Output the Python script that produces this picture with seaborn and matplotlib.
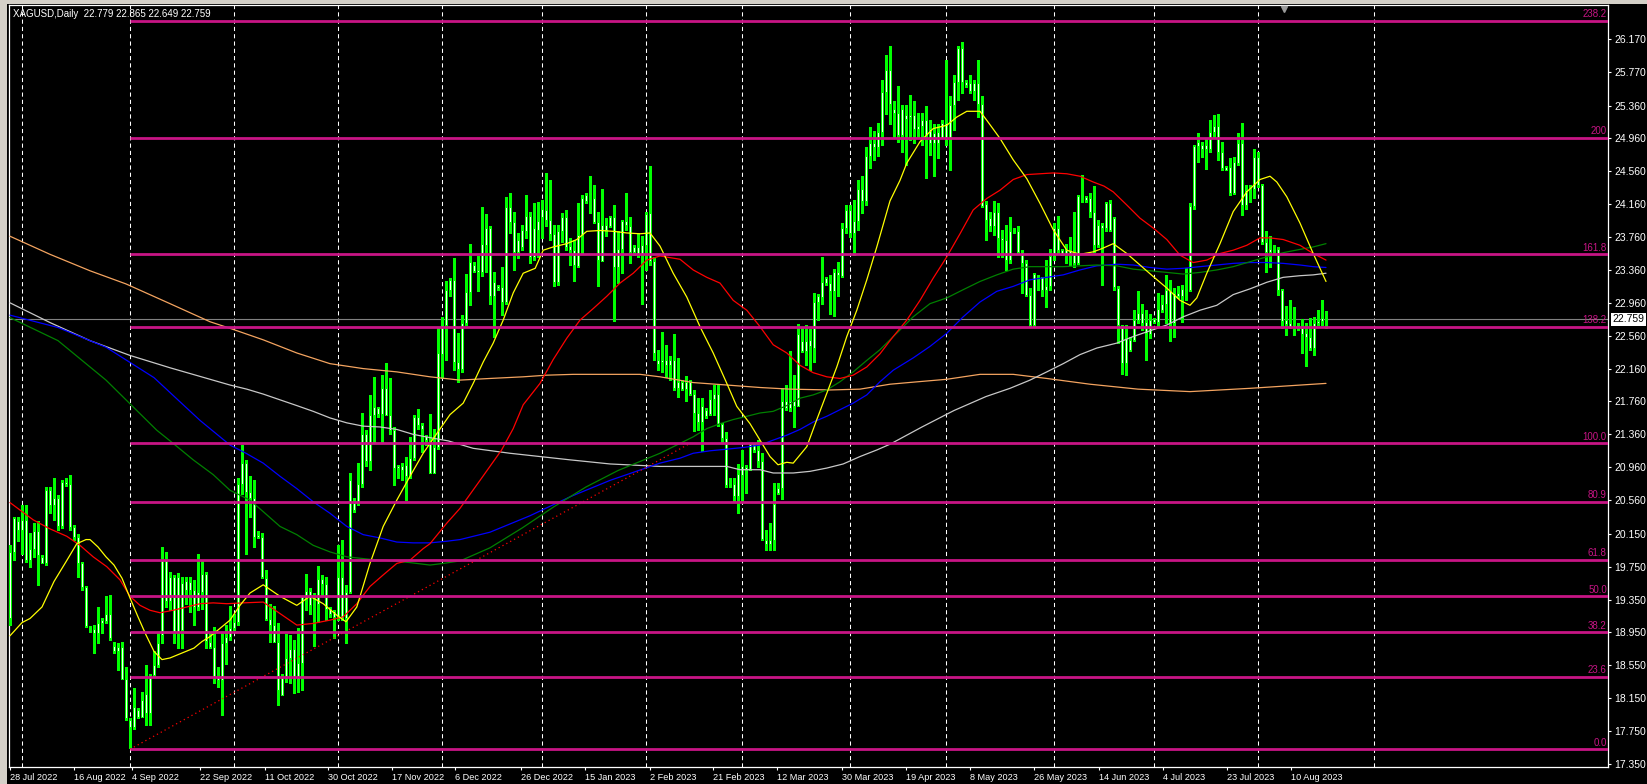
import matplotlib
matplotlib.use("Agg")
import matplotlib.pyplot as plt
import matplotlib.transforms as mtransforms
from matplotlib.patches import Rectangle
import numpy as np
import seaborn as sns

# ---------------- data ----------------
OPEN = [
    19.12, 19.93, 20.31, 20.20, 20.32, 19.83, 19.97, 20.18, 19.87, 19.80,
    20.68, 20.50, 20.58, 20.25, 20.78, 20.76, 20.23, 20.11, 19.80, 19.50,
    19.01, 18.99, 18.94, 19.07, 19.09, 19.18, 18.78, 18.72, 18.77, 18.39,
    17.89, 17.80, 18.01, 17.92, 17.97, 17.97, 18.43, 18.55, 18.92, 19.83,
    19.33, 19.63, 18.94, 19.55, 19.58, 19.47, 19.47, 19.26, 19.44, 19.66,
    18.83, 18.77, 18.41, 18.37, 18.82, 18.89, 19.00, 19.08, 20.76, 21.01,
    20.66, 20.58, 20.13, 20.11, 19.61, 19.11, 19.04, 18.84, 18.41, 18.39,
    18.64, 18.75, 18.39, 18.58, 19.37, 19.45, 19.30, 19.30, 19.60, 19.54,
    19.24, 19.21, 19.14, 19.62, 19.13, 19.44, 20.52, 20.52, 20.76, 21.37,
    21.03, 21.60, 21.68, 21.61, 21.92, 21.60, 21.41, 20.95, 20.98, 20.99,
    20.85, 21.07, 21.57, 21.47, 21.34, 21.25, 20.89, 21.21, 22.34, 22.69,
    23.12, 23.24, 22.24, 22.16, 22.71, 23.09, 23.42, 23.36, 23.33, 23.66,
    23.87, 23.04, 23.17, 23.15, 22.97, 24.12, 23.94, 23.58, 23.85, 23.83,
    24.02, 23.52, 23.85, 24.01, 24.09, 23.97, 23.80, 23.21, 23.83, 24.00,
    23.65, 23.60, 23.41, 23.79, 24.27, 24.28, 24.23, 23.94, 23.47, 23.91,
    23.89, 24.01, 23.39, 23.62, 23.96, 23.90, 23.58, 23.64, 23.56, 23.66,
    24.05, 23.47, 22.27, 22.24, 22.27, 22.20, 22.27, 21.92, 22.00, 21.91,
    22.00, 21.85, 21.62, 21.51, 21.66, 21.61, 21.79, 21.85, 21.49, 21.31,
    20.76, 20.76, 20.61, 20.86, 20.96, 20.94, 21.23, 21.17, 21.03, 20.08,
    20.03, 20.07, 20.71, 20.71, 21.77, 21.68, 21.77, 21.70, 22.49, 22.37,
    22.51, 22.41, 22.97, 23.03, 23.26, 23.20, 23.10, 23.34, 23.29, 23.87,
    24.09, 23.81, 23.96, 24.35, 24.20, 24.75, 24.90, 24.85, 25.04, 25.53,
    25.79, 25.32, 25.27, 25.00, 25.24, 25.22, 25.24, 25.07, 25.11, 25.18,
    25.07, 24.91, 25.04, 24.97, 25.15, 24.95, 25.37, 25.65, 26.06, 25.65,
    25.63, 25.54, 25.63, 25.38, 24.16, 23.99, 23.90, 24.07, 23.75, 23.73,
    23.48, 23.83, 23.83, 23.58, 23.45, 23.06, 22.69, 23.28, 23.27, 23.12,
    23.17, 23.53, 23.87, 23.60, 23.56, 23.60, 23.56, 23.44, 24.27, 24.25,
    24.23, 24.07, 23.66, 23.91, 23.87, 24.18, 23.99, 23.14, 22.68, 22.23,
    22.51, 22.51, 22.75, 22.84, 22.73, 22.58, 22.76, 22.73, 22.87, 22.95,
    23.12, 22.71, 23.08, 23.04, 23.13, 23.11, 24.14, 24.87, 24.88, 24.83,
    24.83, 25.04, 25.11, 24.79, 24.61, 24.61, 24.29, 24.66, 24.90, 24.15,
    24.33, 24.35, 24.73, 24.39, 23.70, 23.58, 23.61, 23.61, 23.12, 22.75,
    22.71, 22.67, 22.69, 22.65, 22.59, 22.54, 22.41, 22.71, 22.74, 22.779,
]
HIGH = [
    20.01, 20.35, 20.35, 20.50, 20.50, 20.16, 20.28, 20.30, 19.89, 20.72,
    20.72, 20.83, 20.62, 20.80, 20.83, 20.87, 20.26, 20.15, 19.81, 19.51,
    19.03, 19.04, 19.26, 19.12, 19.39, 19.41, 18.83, 18.82, 18.83, 18.53,
    17.91, 18.27, 18.03, 18.23, 18.56, 18.45, 18.72, 18.94, 19.99, 19.93,
    19.69, 19.65, 19.67, 19.63, 19.63, 19.63, 19.59, 19.90, 19.83, 19.69,
    18.94, 19.02, 18.53, 18.96, 19.04, 19.27, 19.18, 20.83, 21.23, 21.05,
    20.85, 20.81, 20.18, 20.16, 19.71, 19.30, 19.27, 19.06, 18.45, 18.93,
    18.92, 18.86, 19.00, 19.39, 19.66, 19.49, 19.43, 19.76, 19.65, 19.63,
    19.26, 19.22, 20.01, 20.07, 19.53, 20.89, 20.58, 21.01, 21.62, 21.41,
    21.84, 22.06, 21.69, 22.08, 22.23, 22.04, 21.45, 20.99, 21.01, 21.09,
    21.33, 21.60, 21.67, 21.50, 21.35, 21.61, 21.43, 22.65, 22.79, 23.22,
    23.26, 23.50, 22.59, 22.81, 23.31, 23.68, 23.46, 23.53, 24.13, 24.04,
    23.89, 23.34, 23.18, 23.40, 24.25, 24.30, 24.07, 23.81, 23.91, 24.27,
    24.07, 24.17, 24.19, 24.21, 24.54, 24.46, 23.91, 23.91, 24.05, 24.09,
    23.75, 23.73, 24.17, 24.27, 24.30, 24.50, 24.39, 24.07, 24.34, 23.99,
    24.02, 24.15, 23.83, 23.97, 24.29, 24.01, 23.66, 23.81, 23.77, 24.07,
    24.63, 23.52, 22.39, 22.61, 22.45, 22.31, 22.58, 22.29, 22.02, 22.07,
    22.02, 21.90, 21.80, 21.80, 21.68, 21.90, 21.96, 21.96, 21.50, 21.39,
    20.83, 20.83, 21.00, 21.17, 20.99, 21.25, 21.25, 21.29, 21.13, 20.20,
    20.28, 20.77, 20.77, 21.92, 21.96, 22.37, 22.08, 22.70, 22.67, 22.69,
    22.64, 23.08, 23.07, 23.52, 23.27, 23.30, 23.37, 23.46, 23.93, 24.15,
    24.15, 24.21, 24.45, 24.50, 24.85, 25.10, 25.05, 25.15, 25.67, 25.97,
    26.08, 25.41, 25.60, 25.37, 25.37, 25.49, 25.42, 25.27, 25.27, 25.35,
    25.18, 25.14, 25.14, 25.18, 25.91, 25.47, 25.73, 26.08, 26.13, 25.67,
    25.73, 25.67, 25.91, 25.47, 24.20, 24.07, 24.20, 24.17, 23.85, 23.91,
    24.00, 23.87, 23.89, 23.60, 23.48, 23.14, 23.32, 23.30, 23.28, 23.48,
    23.61, 23.93, 24.02, 23.62, 23.68, 23.76, 24.06, 24.27, 24.52, 24.26,
    24.29, 24.38, 23.97, 23.93, 24.19, 24.21, 24.00, 23.17, 22.69, 22.69,
    22.55, 22.87, 23.10, 22.95, 22.87, 22.83, 22.77, 23.08, 23.06, 23.30,
    23.24, 23.14, 23.17, 23.18, 23.38, 24.17, 24.88, 25.02, 24.92, 24.95,
    25.18, 25.25, 25.26, 24.92, 24.63, 24.72, 24.74, 25.03, 25.15, 24.39,
    24.39, 24.83, 24.80, 24.41, 23.83, 23.77, 23.66, 23.64, 23.13, 22.92,
    22.99, 22.91, 22.71, 22.76, 22.71, 22.77, 22.79, 22.87, 23.00, 22.865,
]
LOW = [
    19.04, 19.83, 20.06, 19.91, 19.81, 19.75, 19.87, 19.53, 19.79, 19.77,
    20.40, 20.32, 20.20, 20.22, 20.73, 20.20, 20.08, 19.63, 19.47, 19.02,
    18.96, 18.70, 18.82, 18.94, 19.06, 18.86, 18.70, 18.49, 18.39, 17.89,
    17.54, 17.78, 17.91, 17.92, 17.83, 17.83, 18.41, 18.53, 18.82, 19.26,
    19.22, 18.82, 18.76, 18.76, 19.30, 19.20, 19.04, 19.22, 19.24, 18.76,
    18.76, 18.33, 18.29, 17.95, 18.57, 18.86, 18.98, 19.04, 20.64, 19.91,
    20.36, 19.99, 20.10, 19.61, 19.10, 18.84, 18.84, 18.07, 18.19, 18.35,
    18.33, 18.21, 18.23, 18.25, 19.22, 19.18, 18.78, 19.08, 19.39, 19.10,
    19.14, 18.88, 19.10, 19.10, 18.82, 19.43, 20.42, 20.50, 20.72, 20.97,
    20.93, 21.25, 21.57, 21.27, 21.60, 21.37, 20.74, 20.83, 20.81, 20.56,
    20.83, 21.05, 21.43, 21.15, 21.23, 20.89, 20.89, 21.18, 22.04, 22.27,
    23.04, 22.14, 22.00, 22.12, 22.69, 22.93, 23.34, 23.10, 23.29, 23.33,
    22.95, 22.55, 23.12, 22.81, 22.95, 23.81, 23.36, 23.50, 23.60, 23.75,
    23.44, 23.48, 23.52, 23.75, 23.89, 23.73, 23.16, 23.18, 23.70, 23.60,
    23.42, 23.22, 23.40, 23.56, 24.17, 24.05, 23.93, 23.16, 23.47, 23.77,
    23.88, 22.74, 23.20, 23.32, 23.85, 23.44, 23.54, 23.52, 22.95, 23.36,
    23.42, 22.27, 22.14, 22.12, 22.06, 22.02, 21.90, 21.82, 21.90, 21.77,
    21.84, 21.40, 21.41, 21.16, 21.56, 21.60, 21.60, 21.46, 21.25, 20.72,
    20.72, 20.54, 20.40, 20.54, 20.65, 20.93, 21.15, 20.96, 20.08, 19.95,
    19.95, 19.95, 20.63, 20.57, 21.66, 21.64, 21.45, 21.70, 22.36, 22.20,
    22.14, 22.24, 22.75, 22.95, 23.18, 22.83, 22.80, 23.04, 23.28, 23.81,
    23.76, 23.54, 23.85, 24.05, 24.15, 24.60, 24.70, 24.75, 24.88, 25.26,
    25.14, 24.98, 24.92, 24.80, 24.64, 24.94, 24.90, 24.98, 24.88, 24.48,
    24.76, 24.50, 24.72, 24.96, 24.88, 24.57, 25.06, 25.43, 25.51, 25.59,
    25.51, 25.43, 25.22, 24.13, 23.72, 23.83, 23.79, 23.52, 23.52, 23.36,
    23.44, 23.81, 23.56, 23.08, 23.04, 22.67, 22.67, 23.12, 23.04, 22.91,
    23.12, 23.48, 23.56, 23.54, 23.44, 23.42, 23.39, 23.43, 24.19, 24.19,
    24.01, 23.58, 23.64, 23.18, 23.83, 23.83, 23.12, 22.47, 22.10, 22.08,
    22.37, 22.50, 22.71, 22.63, 22.27, 22.53, 22.71, 22.68, 22.85, 22.71,
    22.50, 22.55, 23.02, 22.73, 22.99, 23.10, 24.10, 24.67, 24.74, 24.59,
    24.80, 24.96, 24.70, 24.58, 24.57, 24.27, 24.28, 24.64, 24.03, 24.10,
    24.19, 24.23, 24.37, 23.68, 23.34, 23.40, 23.56, 23.06, 22.65, 22.57,
    22.65, 22.57, 22.63, 22.35, 22.19, 22.39, 22.33, 22.69, 22.69, 22.649,
]
CLOSE = [
    19.93, 20.34, 20.20, 20.32, 19.83, 19.97, 20.18, 19.89, 19.80, 20.68,
    20.50, 20.58, 20.25, 20.78, 20.76, 20.23, 20.11, 19.80, 19.50, 19.03,
    18.99, 18.94, 19.07, 19.10, 19.18, 18.88, 18.72, 18.77, 18.39, 17.91,
    17.80, 18.04, 17.92, 18.13, 18.20, 18.43, 18.55, 18.82, 19.83, 19.33,
    19.63, 18.94, 19.63, 18.98, 19.47, 19.56, 19.26, 19.44, 19.66, 18.85,
    18.77, 18.41, 18.37, 18.82, 18.89, 19.00, 19.08, 20.76, 21.01, 20.66,
    20.58, 20.11, 20.11, 19.62, 19.11, 19.04, 18.84, 18.25, 18.19, 18.64,
    18.75, 18.39, 18.58, 19.39, 19.45, 19.28, 19.28, 19.60, 19.54, 19.24,
    19.18, 19.14, 19.62, 19.13, 19.44, 20.81, 20.44, 20.76, 21.37, 21.03,
    21.60, 21.69, 21.61, 21.92, 21.60, 21.41, 20.95, 20.98, 20.93, 20.85,
    21.07, 21.57, 21.47, 21.43, 21.29, 20.89, 21.21, 22.35, 22.69, 23.12,
    23.24, 22.24, 22.16, 22.71, 23.09, 23.46, 23.35, 23.33, 23.68, 23.87,
    23.04, 23.21, 23.14, 22.97, 24.12, 23.94, 23.58, 23.73, 23.64, 24.02,
    23.52, 23.87, 23.96, 24.10, 23.97, 23.80, 23.21, 23.83, 24.00, 23.64,
    23.60, 23.42, 23.79, 24.24, 24.20, 24.29, 23.94, 23.48, 23.91, 23.85,
    24.00, 23.39, 23.62, 23.96, 23.91, 23.58, 23.64, 23.56, 23.66, 24.04,
    23.47, 22.35, 22.22, 22.27, 22.20, 22.27, 21.92, 22.00, 21.91, 22.00,
    21.85, 21.62, 21.51, 21.70, 21.58, 21.79, 21.85, 21.49, 21.31, 20.74,
    20.74, 20.61, 20.88, 20.97, 20.94, 21.24, 21.17, 21.03, 20.09, 20.03,
    20.07, 20.51, 20.65, 21.77, 21.68, 21.77, 21.70, 22.58, 22.37, 22.49,
    22.43, 22.97, 23.04, 23.21, 23.20, 23.10, 23.34, 23.30, 23.87, 24.09,
    23.81, 23.96, 24.35, 24.20, 24.75, 24.90, 24.85, 25.04, 25.53, 25.79,
    25.38, 25.27, 25.00, 25.32, 25.20, 25.24, 25.07, 25.11, 25.18, 24.99,
    24.91, 25.03, 24.90, 25.15, 24.94, 25.37, 25.65, 26.06, 25.65, 25.61,
    25.54, 25.63, 25.38, 24.14, 23.97, 23.90, 24.07, 23.75, 23.73, 23.48,
    23.83, 23.85, 23.58, 23.45, 23.06, 22.69, 23.31, 23.25, 23.12, 23.17,
    23.53, 23.87, 23.60, 23.56, 23.60, 23.56, 23.44, 24.26, 24.26, 24.21,
    24.07, 23.66, 23.91, 23.87, 24.18, 23.85, 23.15, 22.69, 22.23, 22.53,
    22.39, 22.75, 22.84, 22.72, 22.59, 22.75, 22.73, 22.88, 22.95, 23.12,
    22.71, 23.08, 23.04, 23.13, 23.11, 24.14, 24.87, 24.92, 24.83, 24.88,
    25.04, 25.11, 24.79, 24.60, 24.58, 24.29, 24.67, 24.90, 24.15, 24.33,
    24.35, 24.73, 24.39, 23.70, 23.58, 23.61, 23.60, 23.12, 22.74, 22.70,
    22.67, 22.69, 22.65, 22.58, 22.54, 22.41, 22.71, 22.74, 22.78, 22.759,
]

# moving averages: (bar index, price) points
YELLOW_X = [0, 3, 5, 8, 11, 14, 16.7, 19, 20, 22, 24, 26, 28, 30, 32, 34, 36, 38, 40, 43, 46, 48, 50, 53,
            55, 57.5, 60, 63.3, 67.5, 71.7, 75, 78.3, 81.7, 84, 86.7, 90, 93.3, 96.7, 100, 103.3, 106.7,
            110, 113.3, 115.8, 118.3, 120.8, 123.3, 125.8, 128.3, 131.3, 133.3, 135.8, 139.2, 141.7,
            144.2, 147.5, 150.8, 154.2, 157.5, 160, 162.5, 165.8, 169.2, 172.5, 175.8, 179.2, 181.7,
            185, 187.5, 190, 192, 194.2, 195.8, 199.2, 201.7, 204.2, 206.7, 209.2, 211.7, 214.2, 216.7,
            220, 222.5, 224.2, 227.5, 230.8, 234.2, 236.7, 239.2, 242.5, 244.2, 247.5, 250.8, 254.2,
            257.5, 260.8, 264.2, 267.5, 270.8, 273, 275.8, 279.2, 282.5, 285.8, 289.2, 292.5, 295,
            296.7, 299.2, 302.5, 305.8, 309.2, 312.5, 315, 316.7, 319.2, 322.5, 325.8, 329]
YELLOW_Y = [18.91, 19.07, 19.12, 19.26, 19.57, 19.81, 20.03, 20.08, 20.08, 19.99, 19.87, 19.77, 19.61,
            19.37, 19.14, 18.92, 18.72, 18.62, 18.64, 18.70, 18.76, 18.84, 18.90, 19.02,
            19.10, 19.28, 19.43, 19.53, 19.39, 19.28, 19.39, 19.30, 19.16, 19.08, 19.26, 19.79, 20.24,
            20.56, 20.85, 21.13, 21.37, 21.60, 21.74, 21.98, 22.24, 22.47, 22.75, 23.08, 23.32, 23.38,
            23.60, 23.64, 23.68, 23.73, 23.83, 23.84, 23.83, 23.81, 23.80, 23.81, 23.65, 23.32, 23.03,
            22.67, 22.35, 21.98, 21.70, 21.49, 21.29, 21.09, 20.99, 21.02, 21.01, 21.21, 21.54, 21.86,
            22.18, 22.55, 22.87, 23.24, 23.64, 24.20, 24.45, 24.66, 24.92, 25.08, 25.12, 25.22, 25.29,
            25.29, 25.18, 24.96, 24.70, 24.47, 24.17, 23.85, 23.60, 23.55, 23.58, 23.62, 23.68, 23.56,
            23.42, 23.28, 23.14, 22.99, 22.93, 23.02, 23.32, 23.68, 24.07, 24.31, 24.46, 24.50, 24.43,
            24.25, 23.93, 23.56, 23.22]

RED_X = [0, 5.8, 10, 14.2, 17.5, 20.8, 24.2, 27.5, 30, 32.5, 35, 37.5, 40.8, 44.2, 47.5, 50.8, 54.2,
         58.3, 63.3, 67.5, 71.7, 75.8, 80, 83.3, 86.7, 90, 93.3, 96.7, 100, 103.3, 105, 109.2, 112.5,
         117.5, 122.9, 125.8, 128.3, 132.5, 135.8, 139.2, 142.5, 145.8, 149.2, 152.5, 155.8, 159.2,
         162.5, 167.5, 170.8, 174.2, 177.5, 180.8, 184.2, 187.5, 190.8, 194.2, 197.5, 200.8, 204.2,
         207.5, 210.8, 214.2, 217.5, 220.8, 224.2, 227.5, 230.8, 234.2, 237.5, 240.8, 244.2, 247.5,
         250.8, 254.2, 257.5, 260.8, 264.2, 267.5, 270.8, 273.5, 275.8, 279.2, 282.5, 285.8, 289.2,
         292.5, 295.8, 299.2, 302.5, 305.8, 309.2, 312.5, 315, 318.3, 322.5, 325.8, 329]
RED_Y = [20.53, 20.32, 20.21, 20.12, 20.01, 19.87, 19.75, 19.59, 19.39, 19.28, 19.22, 19.19, 19.22,
         19.26, 19.30, 19.31, 19.30, 19.31, 19.32, 19.18, 19.04, 19.06, 19.10, 19.14, 19.30, 19.51,
         19.65, 19.79, 19.83, 19.97, 20.03, 20.28, 20.46, 20.80, 21.17, 21.43, 21.72, 21.98, 22.27,
         22.53, 22.75, 22.89, 23.04, 23.20, 23.32, 23.48, 23.53, 23.49, 23.36, 23.27, 23.20, 22.99,
         22.87, 22.67, 22.45, 22.35, 22.20, 22.11, 22.06, 22.04, 22.08, 22.18, 22.34, 22.55, 22.75,
         22.99, 23.26, 23.52, 23.80, 24.09, 24.23, 24.33, 24.46, 24.52, 24.53, 24.54, 24.53, 24.50,
         24.43, 24.38, 24.31, 24.15, 23.99, 23.87, 23.73, 23.54, 23.45, 23.48, 23.56, 23.60, 23.66,
         23.75, 23.75, 23.73, 23.66, 23.56, 23.48]

GREEN_X = [0, 12, 24, 36.7, 40.8, 45.8, 50.8, 55, 60, 63.3, 67.5, 71.7, 75.8, 80, 84.2, 90, 95.8, 100,
           105, 108.3, 112.5, 120, 128, 136, 144, 152, 162.5, 167.5, 170.8, 174.2, 177.5, 180.8,
           184.2, 187.5, 190.8, 194.2, 197.5, 200.8, 204.2, 207.5, 210.8, 214.2, 217.5, 222.5,
           225.8, 230, 234.2, 238.3, 242.5, 246.7, 250.8, 255, 259.2, 263.3, 267.5, 271.7, 276.7,
           280.8, 285, 289.2, 293.3, 297.5, 301.7, 305.8, 310, 314.2, 318.3, 322.5, 325.8, 329]
GREEN_Y = [22.78, 22.50, 22.02, 21.41, 21.25, 21.05, 20.87, 20.68, 20.56, 20.42, 20.24, 20.14, 20.01,
           19.93, 19.87, 19.84, 19.82, 19.80, 19.77, 19.79, 19.82, 19.98, 20.22, 20.48, 20.72, 20.92,
           21.13, 21.25, 21.33, 21.43, 21.49, 21.54, 21.58, 21.62, 21.64, 21.71, 21.80, 21.84, 21.90,
           22.00, 22.12, 22.26, 22.39, 22.63, 22.79, 22.95, 23.02, 23.12, 23.22, 23.30, 23.37, 23.40,
           23.40, 23.40, 23.41, 23.42, 23.41, 23.37, 23.35, 23.33, 23.31, 23.33, 23.36, 23.40, 23.46,
           23.52, 23.57, 23.61, 23.64, 23.68]

BLUE_X = [0, 12, 24, 36, 47.5, 55, 59, 63.3, 67.5, 71.7, 75.8, 80, 84.2, 88.3, 92.5, 96.7, 100.8, 105,
          109.2, 112.5, 120, 130, 140, 150, 162.5, 167.5, 170.8, 175, 179.2, 183.3, 187.5, 190.8,
          194.2, 197.5, 200.8, 204.2, 207.5, 210.8, 214.2, 217.5, 220.8, 225.8, 230, 234.2, 238.3,
          242.5, 246.7, 250.8, 255, 259.2, 263.3, 267.5, 271.7, 276.7, 280.8, 285, 289.2, 293.3,
          297.5, 301.7, 305.8, 310, 314.2, 318.3, 322.5, 325.8, 329]
BLUE_Y = [22.81, 22.66, 22.42, 22.05, 21.53, 21.23, 21.13, 21.01, 20.85, 20.70, 20.54, 20.40, 20.24,
          20.14, 20.10, 20.05, 20.04, 20.04, 20.06, 20.08, 20.17, 20.37, 20.60, 20.80, 21.01, 21.07,
          21.13, 21.16, 21.18, 21.20, 21.23, 21.29, 21.35, 21.42, 21.51, 21.58, 21.66, 21.74, 21.84,
          22.00, 22.14, 22.29, 22.43, 22.59, 22.79, 22.97, 23.10, 23.16, 23.24, 23.27, 23.30, 23.36,
          23.41, 23.43, 23.42, 23.39, 23.37, 23.38, 23.40, 23.42, 23.44, 23.45, 23.45, 23.44, 23.42,
          23.40, 23.39]

SILVER_X = [0, 10, 20, 30, 40, 55, 59.2, 63.3, 67.5, 71.7, 75.8, 80, 84.2, 88.3, 92.5, 96.7, 100.8,
            105, 109.6, 115.8, 125, 140, 150, 162.5, 173.3, 179.2, 182.5, 187.5, 190.8, 195.8, 200,
            204.2, 208.3, 212.5, 216.7, 220, 228, 236, 244, 250, 255, 259.2, 263.3, 267.5, 271.7,
            276.7, 280.8, 285, 289.2, 293.3, 297.5, 301.7, 305.8, 310, 314.2, 318.3, 322.5, 325.8, 329]
SILVER_Y = [22.96, 22.72, 22.50, 22.32, 22.17, 21.96, 21.91, 21.85, 21.78, 21.71, 21.64, 21.56, 21.50,
            21.46, 21.45, 21.42, 21.36, 21.32, 21.28, 21.19, 21.13, 21.05, 21.00, 20.97, 20.97, 20.97,
            20.93, 20.93, 20.89, 20.89, 20.91, 20.95, 21.00, 21.09, 21.17, 21.24, 21.45, 21.65, 21.82,
            21.92, 22.02, 22.12, 22.22, 22.33, 22.41, 22.47, 22.55, 22.62, 22.69, 22.79, 22.87, 22.93,
            23.06, 23.13, 23.21, 23.27, 23.29, 23.30, 23.32]

ORANGE_X = [0, 10, 20, 29, 40, 50, 55, 63.3, 71.7, 80, 88.3, 96.7, 105, 112.5, 120, 128.3, 134.2,
            140.8, 149.2, 157.5, 162.5, 170.8, 179.2, 187.5, 195, 205, 212.5, 220, 227, 234.2, 242.5,
            250.8, 259.2, 270, 282, 295, 310, 329]
ORANGE_Y = [23.77, 23.55, 23.35, 23.19, 22.95, 22.73, 22.65, 22.51, 22.35, 22.22, 22.16, 22.12, 22.06,
            22.02, 22.04, 22.06, 22.08, 22.09, 22.09, 22.09, 22.06, 21.99, 21.96, 21.93, 21.91, 21.90,
            21.91, 21.97, 22.00, 22.03, 22.09, 22.09, 22.04, 21.97, 21.91, 21.88, 21.92, 21.98]

FIB_LABELS = ["0.0", "23.6", "38.2", "50.0", "61.8", "80.9", "100.0", "138.2", "161.8", "200", "238.2"]
FIB_PRICES = [17.53, 18.41, 18.95, 19.39, 19.83, 20.54, 21.25, 22.67, 23.55, 24.97, 26.39]
FIB_START_BAR = 30
TREND_X = [30, 170]
TREND_Y = [17.53, 21.25]

PRICE_TICK_LABELS = ["17.350", "17.750", "18.150", "18.550", "18.950", "19.350", "19.750", "20.150",
                     "20.560", "20.960", "21.360", "21.760", "22.160", "22.560", "22.960", "23.360",
                     "23.760", "24.160", "24.560", "24.960", "25.360", "25.770", "26.170"]
DATE_TICK_BARS = [-0.1, 16, 30.4, 47.6, 63.75, 79.5, 95.5, 111.25, 127.75, 143.75, 160, 175.75,
                  191.75, 208, 224, 240, 256, 272.25, 288.25, 304.25, 320.25]
DATE_LABELS = ["28 Jul 2022", "16 Aug 2022", "4 Sep 2022", "22 Sep 2022", "11 Oct 2022",
               "30 Oct 2022", "17 Nov 2022", "6 Dec 2022", "26 Dec 2022", "15 Jan 2023",
               "2 Feb 2023", "21 Feb 2023", "12 Mar 2023", "30 Mar 2023", "19 Apr 2023",
               "8 May 2023", "26 May 2023", "14 Jun 2023", "4 Jul 2023", "23 Jul 2023",
               "10 Aug 2023"]
MONTH_SEP_BARS = [3, 30, 56, 82, 108, 133, 159, 183, 210, 234, 261, 286, 312, 341]
LAST_PRICE = 22.759
TITLE = "XAGUSD,Daily  22.779 22.865 22.649 22.759"

# ---------------- figure ----------------
sns.set_style("dark")
plt.rcParams['font.family'] = ['Liberation Sans', 'DejaVu Sans']

W, H = 1647, 784
fig = plt.figure(figsize=(W / 100, H / 100), dpi=100, facecolor='black')
ax = fig.add_axes([9 / W, (H - 767) / H, (1608 - 9) / W, (767 - 5) / H])
ax.set_facecolor('black')
ax.grid(False)
ax.set_xlim(-0.25, 399.5)
ax.set_ylim(17.3135, 26.583)

# window chrome strips
fig.patches.append(Rectangle((0, 0), 7 / W, 1, transform=fig.transFigure,
                             facecolor='#d4d0c8', edgecolor='none', zorder=-1))
fig.patches.append(Rectangle((0, 1 - 4 / H), 1, 4 / H, transform=fig.transFigure,
                             facecolor='#d4d0c8', edgecolor='none', zorder=-1))

# monthly separators
ax.vlines(MONTH_SEP_BARS, 17.3135, 26.583, colors='white', linewidth=0.75,
          linestyles=(0, (4, 3)), zorder=1)

# current price line
ax.axhline(LAST_PRICE, color='#808080', linewidth=0.8, zorder=2)

# candles
o = np.array(OPEN); c = np.array(CLOSE)
hi = np.maximum(np.array(HIGH), np.maximum(o, c))
lo = np.minimum(np.array(LOW), np.minimum(o, c))
xb = np.arange(len(c))
ax.vlines(xb, lo, hi, colors='#00FF00', linewidth=0.8, zorder=3, antialiased=False)
body_bottom = np.minimum(o, c)
body_h = np.maximum(np.abs(c - o), 0.006)
ax.bar(xb, body_h, bottom=body_bottom, width=0.6, color='white', edgecolor='#00FF00',
       linewidth=0.75, zorder=4)

# moving averages
for xs, ys, col in [(ORANGE_X, ORANGE_Y, '#F4A460'), (SILVER_X, SILVER_Y, '#C8C8C8'),
                    (BLUE_X, BLUE_Y, '#0000FF'), (GREEN_X, GREEN_Y, '#008000'),
                    (RED_X, RED_Y, '#FF0000'), (YELLOW_X, YELLOW_Y, '#FFFF00')]:
    sns.lineplot(x=xs, y=ys, color=col, linewidth=0.9, ax=ax, zorder=5, legend=False)

# fibonacci object
ax.plot(TREND_X, TREND_Y, color='#FF0000', linewidth=0.9, linestyle=(0, (1, 2.5)), zorder=6)
ax.hlines(FIB_PRICES, FIB_START_BAR, 399.5, colors='#C71585', linewidth=2.0, zorder=6)
for lab, p in zip(FIB_LABELS, FIB_PRICES):
    ax.text(399.2, p + 0.02, lab, color='#C71585', fontsize=7, ha='right', va='bottom', zorder=7)

# frame
for sp in ax.spines.values():
    sp.set_color('white')
    sp.set_linewidth(0.9)
    sp.set_visible(True)

# axes ticks
ax.yaxis.tick_right()
ax.set_yticks([float(t) for t in PRICE_TICK_LABELS])
ax.set_yticklabels(PRICE_TICK_LABELS)
ax.tick_params(axis='y', which='both', right=True, left=False, colors='white', labelcolor='white',
               length=2.5, width=0.8, pad=2, labelsize=7.5, direction='out')
ax.set_xticks(DATE_TICK_BARS)
ax.set_xticklabels(DATE_LABELS, ha='left')
ax.tick_params(axis='x', which='both', bottom=True, colors='white', labelcolor='white',
               length=2.5, width=0.8, pad=1.5, labelsize=6.6, direction='out')
ax.set_xlabel('')
ax.set_ylabel('')

# last price tag
trans = mtransforms.blended_transform_factory(ax.transAxes, ax.transData)
ax.text(1.0028, LAST_PRICE, f"{LAST_PRICE:.3f}", transform=trans, color='black', fontsize=7.5,
        ha='left', va='center', clip_on=False, zorder=10,
        bbox=dict(boxstyle='square,pad=0.15', facecolor='white', edgecolor='none'))

# chart-shift marker
ax.plot([318.5], [26.54], marker='v', markersize=4, color='#9a9a9a', clip_on=False, zorder=8)

# title
fig.text(13 / W, 1 - 14 / H, TITLE, color='white', fontsize=7, ha='left', va='center')

fig.savefig('out.png', dpi=100, facecolor='black')
